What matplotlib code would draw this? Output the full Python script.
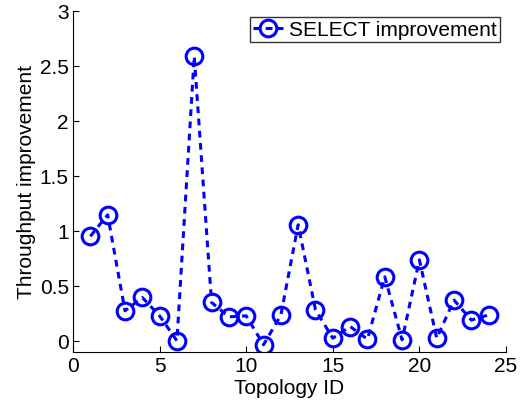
import matplotlib
matplotlib.use('Agg')
import matplotlib.pyplot as plt

topology_id = list(range(1, 25))
improvement = [0.95, 1.145, 0.273, 0.394, 0.227, 0.0, 2.586, 0.349, 0.218, 0.227, -0.036, 0.233,
               1.055, 0.282, 0.024, 0.13, 0.015, 0.582, 0.009, 0.736, 0.024, 0.37, 0.188, 0.236]

plt.rcParams['font.family'] = ['Liberation Sans', 'DejaVu Sans']
fig = plt.figure(figsize=(5.29, 4.06), dpi=100)
ax = fig.add_axes([0.138, 0.131, 0.8185, 0.84])
ax.plot(topology_id, improvement, '--o', color='b', linewidth=2.2, markersize=12,
        markerfacecolor='none', markeredgewidth=2.2, dashes=(2.2, 1.8),
        label='SELECT improvement')
ax.set_xlim(0, 25)
ax.set_ylim(-0.1, 3)
ax.set_xticks([0, 5, 10, 15, 20, 25])
ax.set_yticks([0, 0.5, 1, 1.5, 2, 2.5, 3])
ax.set_yticklabels(['0', '0.5', '1', '1.5', '2', '2.5', '3'])
ax.spines['top'].set_visible(False)
ax.spines['right'].set_visible(False)
ax.tick_params(direction='in', labelsize=15, length=4, pad=3)
ax.set_xlabel('Topology ID', fontsize=15, labelpad=2)
ax.set_ylabel('Throughput improvement', fontsize=15, labelpad=3)
leg = ax.legend(loc='upper right', fontsize=15, frameon=True, fancybox=False,
                handlelength=1.4, handletextpad=0.3, borderpad=0.15, borderaxespad=0.3)
leg.get_frame().set_edgecolor('black')
leg.get_frame().set_linewidth(1.0)
fig.savefig('out.png', dpi=100)
